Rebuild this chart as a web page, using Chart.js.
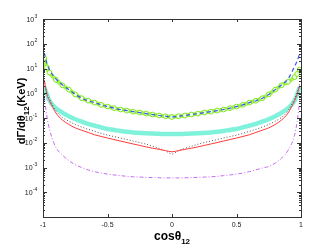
<!DOCTYPE html>
<html>
<head>
<meta charset="utf-8">
<script src="https://cdn.jsdelivr.net/npm/chart.js"></script>
<style>
  html, body { margin: 0; padding: 0; background: #fff; }
</style>
</head>
<body>
<canvas id="chart" width="332" height="250"></canvas>
<script>
// cos(theta12) sample points
let cosTheta = [-0.99, -0.97, -0.95, -0.9, -0.85, -0.8, -0.75, -0.7, -0.65, -0.6, -0.55,
  -0.5, -0.45, -0.4, -0.35, -0.3, -0.25, -0.2, -0.15, -0.1, -0.05, 0,
  0.05, 0.1, 0.15, 0.2, 0.25, 0.3, 0.35, 0.4, 0.45, 0.5, 0.55, 0.6, 0.65,
  0.7, 0.75, 0.8, 0.85, 0.9, 0.95, 0.97, 0.99]

// dGamma/dtheta12 in KeV
let greenBand = [26, 11, 6.9, 3.5, 2.1, 1.4, 0.9, 0.63, 0.5, 0.42, 0.34,
  0.29, 0.25, 0.22, 0.2, 0.18, 0.166, 0.15, 0.138, 0.126, 0.118, 0.11,
  0.118, 0.126, 0.138, 0.15, 0.166, 0.18, 0.2, 0.22, 0.25, 0.29, 0.34, 0.42, 0.5,
  0.63, 0.9, 1.4, 2.1, 2.9, 4.5, 6, 9]
let blueDashed = [43, 16, 9, 3.8, 2.2, 1.4, 0.9, 0.63, 0.5, 0.42, 0.34,
  0.29, 0.25, 0.22, 0.2, 0.18, 0.166, 0.15, 0.138, 0.126, 0.118, 0.11,
  0.118, 0.126, 0.138, 0.15, 0.166, 0.18, 0.2, 0.22, 0.25, 0.29, 0.34, 0.42, 0.5,
  0.63, 0.9, 1.4, 2.2, 3.8, 12, 20, 42]
let cyanBand = [1.8, 0.9, 0.5, 0.25, 0.166, 0.118, 0.089, 0.071, 0.058, 0.049, 0.042,
  0.036, 0.033, 0.03, 0.028, 0.026, 0.025, 0.024, 0.0234, 0.0229, 0.0224, 0.0224,
  0.0224, 0.0229, 0.0234, 0.024, 0.025, 0.026, 0.028, 0.03, 0.033, 0.036, 0.042, 0.049, 0.058,
  0.071, 0.089, 0.118, 0.166, 0.25, 0.5, 0.9, 1.8]
let redSolid = [3.2, 0.9, 0.5, 0.16, 0.083, 0.055, 0.04, 0.032, 0.026, 0.021, 0.018,
  0.0155, 0.0135, 0.0117, 0.0102, 0.0089, 0.0078, 0.0068, 0.006, 0.0054, 0.0048, 0.0043,
  0.0048, 0.0054, 0.006, 0.0068, 0.0078, 0.0089, 0.0102, 0.0117, 0.0135, 0.0155, 0.018, 0.021, 0.026,
  0.032, 0.04, 0.055, 0.083, 0.16, 0.5, 0.9, 2]
let blackDotted = [3.5, 1.1, 0.6, 0.2, 0.107, 0.074, 0.055, 0.043, 0.035, 0.029, 0.024,
  0.0204, 0.0178, 0.0155, 0.0135, 0.0117, 0.0102, 0.0087, 0.0072, 0.0059, 0.0047, 0.0035,
  0.0047, 0.0059, 0.0072, 0.0087, 0.0102, 0.0117, 0.0135, 0.0155, 0.0178, 0.0204, 0.024, 0.029, 0.035,
  0.043, 0.055, 0.074, 0.107, 0.2, 0.6, 1.1, 2.5]
let magentaDashDot = [0.7, 0.12, 0.035, 0.0065, 0.0032, 0.0019, 0.0013, 0.001, 0.0008, 0.00068, 0.0006,
  0.00054, 0.0005, 0.00047, 0.00044, 0.00042, 0.00041, 0.0004, 0.00039, 0.000385, 0.00038, 0.00038,
  0.00038, 0.000385, 0.00039, 0.0004, 0.00041, 0.00042, 0.00044, 0.00047, 0.0005, 0.00054, 0.0006, 0.00068, 0.0008,
  0.00095, 0.0011, 0.0015, 0.0024, 0.005, 0.02, 0.07, 0.5]

let xTicks = [-1, -0.5, 0, 0.5, 1]
let yDecades = [-5, -4, -3, -2, -1, 0, 1, 2, 3]
let yLabelled = [-4, -3, -2, -1, 0, 1, 2, 3]

function points(values) {
  return cosTheta.map((c, i) => ({ x: c, y: values[i] }))
}

// box with inward ticks, like the matlab frame, plus 10^n labels and titles
const framePlugin = {
  id: 'frame',
  afterDraw(chart) {
    const { ctx, chartArea: a, scales } = chart
    const xs = scales.x, ys = scales.y
    ctx.save()
    ctx.strokeStyle = '#333'
    ctx.lineWidth = 1
    ctx.strokeRect(a.left + 0.5, a.top + 0.5, a.right - a.left, a.bottom - a.top)
    ctx.beginPath()
    xTicks.forEach(v => {
      let px = Math.round(xs.getPixelForValue(v)) + 0.5
      ctx.moveTo(px, a.bottom); ctx.lineTo(px, a.bottom - 3)
      ctx.moveTo(px, a.top); ctx.lineTo(px, a.top + 3)
    })
    yDecades.forEach(e => {
      for (let m = 1; m <= 9; m++) {
        let val = m * Math.pow(10, e)
        if (val > 1000) break
        let py = Math.round(ys.getPixelForValue(val)) + 0.5
        let len = m === 1 ? 4 : 2
        ctx.moveTo(a.left, py); ctx.lineTo(a.left + len, py)
        ctx.moveTo(a.right, py); ctx.lineTo(a.right - len, py)
      }
    })
    ctx.stroke()

    // y tick labels 10^n
    ctx.fillStyle = '#222'
    ctx.textAlign = 'left'
    ctx.textBaseline = 'alphabetic'
    yLabelled.forEach(e => {
      let py = ys.getPixelForValue(Math.pow(10, e))
      ctx.font = '7px "Liberation Sans"'
      let wb = ctx.measureText('10').width
      ctx.font = '5px "Liberation Sans"'
      let we = ctx.measureText(String(e)).width
      let x0 = a.left - 6 - wb - we
      ctx.font = '7px "Liberation Sans"'
      ctx.fillText('10', x0, py + 2.5)
      ctx.font = '5px "Liberation Sans"'
      ctx.fillText(String(e), x0 + wb + 0.3, py - 1.5)
    })

    // axis titles with subscripts
    ctx.fillStyle = '#000'
    let big = 'bold 12px "Liberation Sans"', small = 'bold 8px "Liberation Sans"'
    ctx.font = big
    let w1 = ctx.measureText('cos\u03B8').width
    ctx.font = small
    let w2 = ctx.measureText('12').width
    let cx = (a.left + a.right) / 2 - (w1 + w2) / 2
    ctx.font = big
    ctx.fillText('cos\u03B8', cx, 240)
    ctx.font = small
    ctx.fillText('12', cx + w1, 244)

    let ybig = 'bold 11px "Liberation Sans"', ysmall = 'bold 8px "Liberation Sans"'
    ctx.font = ybig
    let p1 = ctx.measureText('d\u0393/d\u03B8').width
    let p3 = ctx.measureText('(KeV)').width
    ctx.font = ysmall
    let p2 = ctx.measureText('12').width
    let total = p1 + p2 + p3
    ctx.translate(25, 111)
    ctx.rotate(-Math.PI / 2)
    let t = -total / 2
    ctx.font = ybig
    ctx.fillText('d\u0393/d\u03B8', t, 0)
    ctx.font = ysmall
    ctx.fillText('12', t + p1, 4)
    ctx.font = ybig
    ctx.fillText('(KeV)', t + p1 + p2, 0)
    ctx.restore()
  }
}

let ctx = document.getElementById('chart').getContext('2d')
let myChart = new Chart(ctx, {
  type: 'line',
  data: {
    datasets: [
      {
        label: 'blue dashed',
        data: points(blueDashed),
        borderColor: '#3a55e6',
        borderWidth: 1.2,
        borderDash: [4, 3],
        pointRadius: 0
      },
      {
        label: 'green',
        data: points(greenBand),
        borderColor: 'rgba(140,240,40,0.8)',
        borderWidth: 4,
        pointRadius: 2.4,
        pointBorderWidth: 1,
        pointBorderColor: '#7ee81a',
        pointBackgroundColor: '#f4ffe8'
      },
      {
        label: 'red',
        data: points(redSolid),
        borderColor: '#ff3a3a',
        borderWidth: 1,
        pointRadius: 0
      },
      {
        label: 'dotted',
        data: points(blackDotted),
        borderColor: '#555',
        borderWidth: 1,
        borderDash: [1, 2],
        pointRadius: 0
      },
      {
        label: 'cyan',
        data: points(cyanBand),
        borderColor: '#80f2dc',
        borderWidth: 4.5,
        pointRadius: 0
      },
      {
        label: 'magenta',
        data: points(magentaDashDot),
        borderColor: '#c46cf5',
        borderWidth: 1,
        borderDash: [4, 2, 1, 2],
        pointRadius: 0
      }
    ]
  },
  options: {
    responsive: false,
    animation: false,
    elements: { line: { cubicInterpolationMode: 'monotone' } },
    layout: { padding: { left: 0, top: 19, right: 31, bottom: 0 } },
    plugins: { legend: { display: false }, tooltip: { enabled: false } },
    scales: {
      x: {
        type: 'linear',
        min: -1,
        max: 1,
        afterFit(s) { s.height = 33 },
        afterBuildTicks(s) { s.ticks = xTicks.map(v => ({ value: v })) },
        grid: { display: false, drawTicks: false },
        border: { display: false },
        ticks: {
          padding: 4,
          maxRotation: 0,
          autoSkip: false,
          color: '#222',
          font: { family: 'Liberation Sans', size: 7 },
          callback: v => String(v)
        }
      },
      y: {
        type: 'logarithmic',
        min: 1e-5,
        max: 1e3,
        afterFit(s) { s.width = 43 },
        afterBuildTicks(s) { s.ticks = yDecades.map(e => ({ value: Math.pow(10, e) })) },
        grid: { display: false, drawTicks: false },
        border: { display: false },
        ticks: { display: false }
      }
    }
  },
  plugins: [framePlugin]
})
</script>
</body>
</html>
